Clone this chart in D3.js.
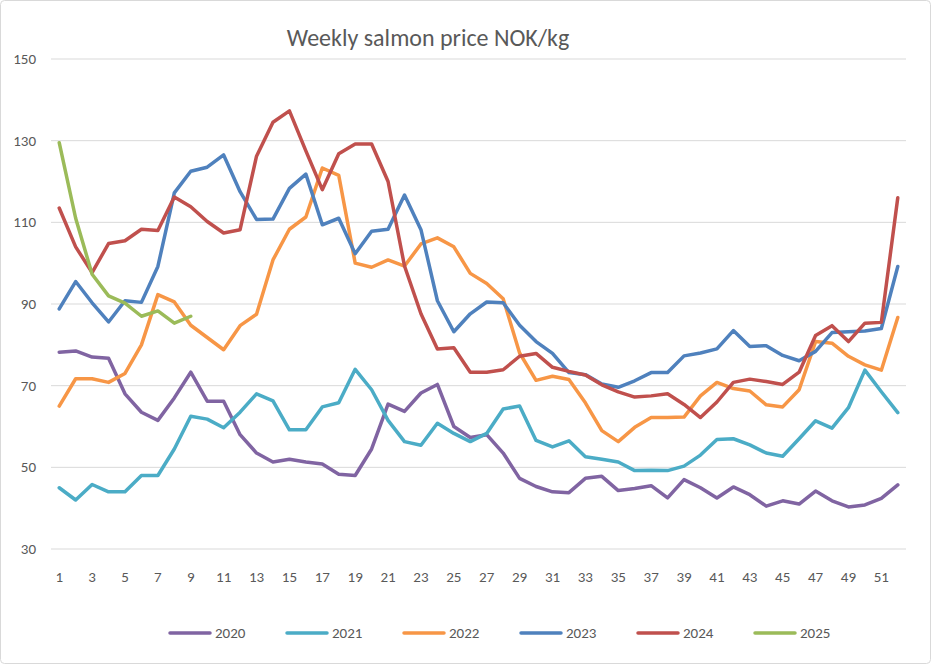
<!DOCTYPE html>
<html>
<head>
<meta charset="utf-8">
<script src="https://d3js.org/d3.v7.min.js"></script>
<style>
	body{ margin:0; background:#fff; }
	text{ font-family: Calibri, Carlito, "Liberation Sans", sans-serif; fill:#595959; }
</style>
</head>
<body>
<svg id="chart" width="931" height="664"></svg>
<script>
const years = ['2020', '2021', '2022', '2023', '2024', '2025'];
const colors = ['#8064a2', '#4bacc6', '#f79646', '#4f81bd', '#c0504d', '#9bbb59'];
const yTicks = [30, 50, 70, 90, 110, 130, 150];

const p2020 = [78.2, 78.5, 77, 76.7, 68, 63.5, 61.5, 67, 73.3, 66.2, 66.2, 58, 53.5, 51.3, 52, 51.3, 50.8, 48.3, 48, 54.5, 65.5, 63.7, 68.2, 70.3, 60, 57.3, 58, 53.5, 47.3, 45.3, 44, 43.8, 47.3, 47.8, 44.3, 44.8, 45.5, 42.5, 47, 45, 42.5, 45.2, 43.3, 40.5, 41.8, 41, 44.2, 41.8, 40.3, 40.8, 42.4, 45.7];
const p2021 = [45, 42, 45.8, 44, 44, 48, 48, 54.5, 62.5, 61.8, 59.7, 63.5, 68, 66.3, 59.2, 59.2, 64.8, 65.8, 74, 69, 61.5, 56.3, 55.4, 60.8, 58.3, 56.3, 58.3, 64.3, 65, 56.6, 55, 56.5, 52.6, 52, 51.3, 49.2, 49.3, 49.2, 50.3, 53, 56.8, 57, 55.5, 53.5, 52.7, 57, 61.4, 59.6, 64.6, 73.8, 68.5, 63.4];
const p2022 = [65, 71.7, 71.7, 70.8, 73, 80, 92.3, 90.5, 84.8, 81.8, 78.8, 84.7, 87.5, 100.8, 108.3, 111.3, 123.3, 121.5, 100, 99, 100.8, 99.3, 104.7, 106.2, 104, 97.5, 95, 91.3, 78, 71.3, 72.3, 71.5, 65.8, 59, 56.3, 59.8, 62.2, 62.2, 62.3, 67.5, 70.8, 69.3, 68.7, 65.3, 64.8, 69, 80.8, 80.4, 77.2, 75.1, 73.8, 86.7];
const p2023 = [88.8, 95.5, 90.3, 85.6, 90.8, 90.4, 99.2, 117.2, 122.5, 123.5, 126.5, 117.5, 110.7, 110.8, 118.3, 121.8, 109.4, 111, 102.3, 107.8, 108.3, 116.7, 108.2, 90.8, 83.2, 87.6, 90.5, 90.3, 84.8, 80.8, 77.9, 73.2, 72.7, 70.4, 69.6, 71.2, 73.2, 73.2, 77.3, 78, 79, 83.5, 79.6, 79.8, 77.4, 76.1, 78.4, 83, 83.2, 83.4, 84, 99.2];
const p2024 = [113.5, 104, 97.7, 104.8, 105.5, 108.3, 108, 116.2, 113.8, 110.2, 107.4, 108.2, 126.2, 134.5, 137.3, 127.5, 118, 126.8, 129.2, 129.2, 120, 99.3, 87.6, 79, 79.3, 73.3, 73.3, 73.9, 77.2, 77.9, 74.5, 73.5, 72.6, 70.2, 68.5, 67.2, 67.5, 68, 65.4, 62.2, 66, 70.8, 71.6, 71, 70.3, 73.3, 82.3, 84.7, 80.8, 85.3, 85.5, 116];
const p2025 = [129.5, 111, 97.3, 92, 90.2, 87, 88.3, 85.3, 87];
const series = [p2020, p2021, p2022, p2023, p2024, p2025];

const weeks = d3.range(1, 53);
const svg = d3.select('#chart');

// chart border
svg.append('rect')
	.attr('x', 0.5).attr('y', 0.5).attr('width', 930).attr('height', 663)
	.attr('rx', 4).attr('fill', '#fff').attr('stroke', '#d9d9d9');

const x = d3.scalePoint().domain(weeks).range([51, 906]).padding(0.5);
const y = d3.scaleLinear().domain([30, 150]).range([549, 59]);

// gridlines
svg.append('g').selectAll('line')
	.data(yTicks)
	.join('line')
	.attr('x1', 51).attr('x2', 906)
	.attr('y1', d => y(d)).attr('y2', d => y(d))
	.attr('stroke', '#d9d9d9').attr('stroke-width', 1);

// y labels
svg.append('g').selectAll('text')
	.data(yTicks)
	.join('text')
	.attr('x', 36).attr('y', d => y(d) + 5)
	.attr('text-anchor', 'end')
	.style('font-size', '15px')
	.text(d => d);

// x labels, odd weeks only
svg.append('g').selectAll('text')
	.data(weeks.filter(w => w % 2 === 1))
	.join('text')
	.attr('x', d => x(d)).attr('y', 582)
	.attr('text-anchor', 'middle')
	.style('font-size', '15px')
	.text(d => d);

const line = d3.line()
	.x((d, i) => x(weeks[i]))
	.y(d => y(d));

svg.append('g').selectAll('path')
	.data(series)
	.join('path')
	.attr('d', d => line(d))
	.attr('fill', 'none')
	.attr('stroke', (d, i) => colors[i])
	.attr('stroke-width', 3.5)
	.attr('stroke-linejoin', 'round')
	.attr('stroke-linecap', 'round');

// title
svg.append('text')
	.attr('x', 428).attr('y', 46)
	.attr('text-anchor', 'middle')
	.style('font-size', '24px')
	.text('Weekly salmon price NOK/kg');

// legend
const lg = svg.append('g').selectAll('g')
	.data(years)
	.join('g')
	.attr('transform', (d, i) => `translate(${170 + i * 117}, 633)`);
lg.append('line')
	.attr('x1', 0).attr('x2', 40)
	.attr('stroke', (d, i) => colors[i])
	.attr('stroke-width', 3.5).attr('stroke-linecap', 'round');
lg.append('text')
	.attr('x', 45).attr('y', 5)
	.style('font-size', '15px')
	.text(d => d);
</script>
</body>
</html>
